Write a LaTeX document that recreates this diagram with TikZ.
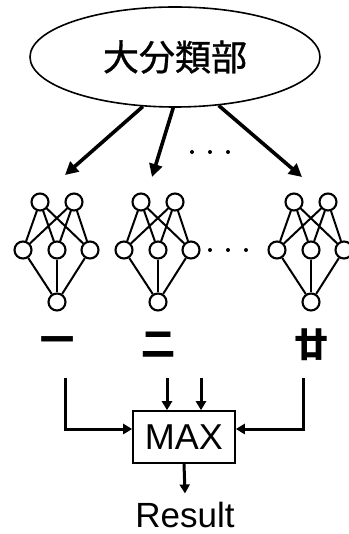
\documentclass[tikz,border=0pt]{standalone}
\usepackage{fontspec}
\setmainfont{Liberation Sans}
\newfontfamily\cjk{Noto Sans CJK JP}
\newfontfamily\cjkmid[FakeBold=0.9]{Noto Sans CJK JP}
\usetikzlibrary{arrows.meta,shapes.geometric}

\tikzset{
  neuron/.style={circle, draw, line width=2.1pt, minimum size=17pt, inner sep=0pt, fill=white},
  synapse/.style={line width=2pt},
  bigarrow/.style={line width=3.6pt, -{Triangle[length=13pt,width=13pt]}},
  flow/.style={line width=3pt, -{Triangle[length=9pt,width=10pt]}},
  dotmark/.style={circle, fill=black, inner sep=0pt, minimum size=4pt},
  cjklabel/.style={font=\cjk\bfseries\fontsize{34}{34}\selectfont, inner sep=0pt},
}

\begin{document}
\begin{tikzpicture}[x=1pt, y=-1pt]
\useasboundingbox (0,0) rectangle (348,534);

% classifier ellipse
\node[draw, ellipse, line width=1.6pt, minimum width=290pt, minimum height=100pt,
      font=\cjkmid\fontsize{36}{36}\selectfont] (cls) at (175,57) {大分類部};

% arrow targets above the networks
\coordinate (t1) at (65,175);
\coordinate (t2) at (152,177);
\coordinate (t3) at (302,177);
\draw[bigarrow] (cls.-123) -- (t1);
\draw[bigarrow] (cls.-92) -- (t2);
\draw[bigarrow] (cls.-48) -- (t3);

\node[dotmark] (ud1) at (192,152) {};
\node[dotmark] (ud2) at (210,152) {};
\node[dotmark] (ud3) at (228,152) {};

% the three small networks
\foreach \k/\x in {1/57, 2/158, 3/311} {
  \node[neuron] (n\k b) at (\x,302) {};
  \node[neuron] (n\k ma) at (\x-34,250) {};
  \node[neuron] (n\k mb) at (\x,250) {};
  \node[neuron] (n\k mc) at (\x+33,250) {};
  \node[neuron] (n\k ta) at (\x-17,202) {};
  \node[neuron] (n\k tb) at (\x+17,202) {};
  \foreach \m in {ma,mb,mc} {
    \draw[synapse] (n\k ta) -- (n\k \m);
    \draw[synapse] (n\k tb) -- (n\k \m);
    \draw[synapse] (n\k \m) -- (n\k b);
  }
}

\node[dotmark] (md1) at (210,250) {};
\node[dotmark] (md2) at (228,250) {};
\node[dotmark] (md3) at (246,250) {};

% network labels
\node[cjklabel] (l1) at (57,345) {一};
\node[cjklabel] (l2) at (158,345) {二};
\node[cjklabel] (l3) at (311,345) {廿};

% MAX unit
\node[draw, line width=1.6pt, minimum width=102pt, minimum height=52pt, inner sep=0pt,
      font=\fontsize{36}{36}\selectfont] (max) at (184,437) {MAX};

\coordinate (a1) at (65,378);
\coordinate (a2) at (167,378);
\coordinate (a3) at (201,378);
\coordinate (a4) at (303,378);
\draw[flow] (a1) |- ([yshift=8pt]max.west);
\draw[flow] (a4) |- ([yshift=8pt]max.east);
\draw[flow] (a2) -- (a2 |- max.north);
\draw[flow] (a3) -- (a3 |- max.north);

\node[inner sep=0pt, anchor=base, font=\fontsize{35}{35}\selectfont] (res) at (185,527) {Result};
\draw[flow] (max.south) -- ([yshift=8pt]res.north);
\end{tikzpicture}
\end{document}
